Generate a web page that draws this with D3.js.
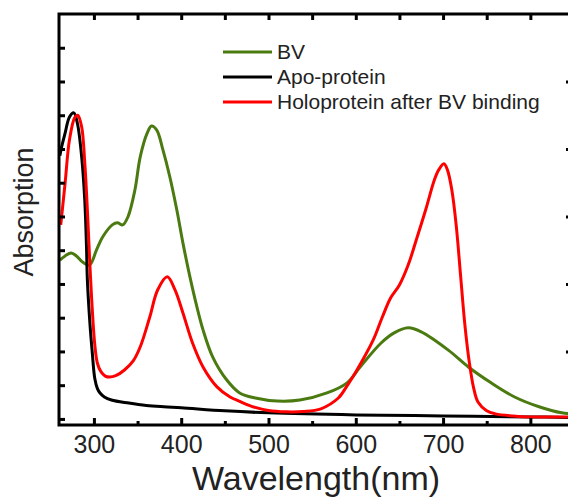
<!DOCTYPE html>
<html>
<head>
<meta charset="utf-8">
<script src="https://cdn.jsdelivr.net/npm/d3@7"></script>
<style>
  body { margin: 0; background: #fff; }
  text { font-family: "Liberation Sans", Arial, sans-serif; fill: #222; }
</style>
</head>
<body>
<div id="chart"></div>
<script>
//Width and height
var w = 568;
var h = 497;

var seriesNames = ["BV", "Apo-protein", "Holoprotein after BV binding"];
var seriesColors = ["#4a7a10", "#000000", "#ff0000"];

var xTickLabels = [300, 400, 500, 600, 700, 800];
var xMinorTicks = [350, 450, 550, 650, 750, 850];
var yTicks = [0, 0.1, 0.2, 0.3, 0.4, 0.5, 0.6, 0.7, 0.8, 0.9, 1.0, 1.1];
var yRightTicks = [0.2, 0.4, 0.6, 0.8, 1.0];

// BV (free biliverdin)
var bvNm  = [261, 267, 274, 280, 287, 295, 303, 310, 321, 327, 333, 339, 347, 353, 361, 366, 372, 379, 387, 395, 402, 410, 418, 425, 436, 452, 467, 485, 510, 536, 567, 590, 605, 629, 644, 660, 675, 706, 729, 755, 782, 810, 836, 850];
var bvAbs = [0.471, 0.483, 0.492, 0.483, 0.465, 0.456, 0.501, 0.539, 0.575, 0.581, 0.575, 0.599, 0.679, 0.776, 0.847, 0.868, 0.856, 0.798, 0.717, 0.619, 0.521, 0.421, 0.332, 0.264, 0.184, 0.116, 0.077, 0.062, 0.053, 0.056, 0.077, 0.107, 0.154, 0.225, 0.255, 0.270, 0.258, 0.204, 0.154, 0.107, 0.065, 0.036, 0.018, 0.015];

// Apo-protein
var apoNm  = [261, 263, 267, 272, 277, 281, 286, 289.5, 291.5, 292.5, 295.5, 298, 301, 304, 307, 312, 320, 340, 360, 380, 400, 450, 500, 600, 700, 800, 850];
var apoAbs = [0.780, 0.806, 0.847, 0.895, 0.907, 0.877, 0.776, 0.649, 0.510, 0.412, 0.280, 0.200, 0.120, 0.090, 0.077, 0.065, 0.056, 0.047, 0.040, 0.036, 0.033, 0.024, 0.018, 0.012, 0.009, 0.006, 0.004];

// Holoprotein after BV binding
var holoNm  = [262, 267, 272, 278, 281.5, 286, 289.5, 292.5, 295.5, 298, 301, 304, 308, 313, 318, 325, 335, 345, 353, 364, 373, 384, 393, 402, 413, 425, 441, 456, 467, 480, 500, 520, 540, 560, 580, 590, 600, 620, 630, 640, 650, 660, 670, 680, 690, 695, 701, 705, 710, 715, 720, 725, 730, 735, 740, 750, 760, 780, 800, 850];
var holoAbs = [0.575, 0.699, 0.827, 0.893, 0.900, 0.865, 0.760, 0.620, 0.450, 0.330, 0.220, 0.165, 0.140, 0.127, 0.124, 0.128, 0.145, 0.172, 0.213, 0.302, 0.382, 0.421, 0.382, 0.314, 0.225, 0.154, 0.095, 0.065, 0.052, 0.038, 0.025, 0.021, 0.022, 0.030, 0.062, 0.098, 0.139, 0.234, 0.299, 0.359, 0.397, 0.456, 0.536, 0.619, 0.708, 0.738, 0.756, 0.738, 0.679, 0.575, 0.427, 0.279, 0.169, 0.092, 0.050, 0.024, 0.015, 0.009, 0.006, 0.006];

var allNm = [bvNm, apoNm, holoNm];
var allAbs = [bvAbs, apoAbs, holoAbs];

//Create SVG element
var svg = d3.select("#chart")
  .append("svg")
  .attr("width", w)
  .attr("height", h);

// plot box (right edge falls just outside the window, as in the original)
var padL = 59, padR = 574, padT = 14, padB = 425;

var x = d3.scaleLinear().domain([260, 850]).range([padL, padR]);
var y = d3.scaleLinear().domain([-0.018, 1.2]).range([padB, padT]);

svg.append("clipPath").attr("id", "plotClip")
  .append("rect")
  .attr("x", padL).attr("y", padT)
  .attr("width", padR - padL).attr("height", padB - padT);

//draw the curves
var line = d3.line()
  .x(function(d) { return x(d[0]); })
  .y(function(d) { return y(d[1]); })
  .curve(d3.curveCatmullRom.alpha(0.5));

// BV first, then apo, then holo on top
[0, 1, 2].forEach(function(s) {
  var pts = allNm[s].map(function(nm, i) { return [nm, allAbs[s][i]]; });
  svg.append("path")
    .datum(pts)
    .attr("clip-path", "url(#plotClip)")
    .attr("fill", "none")
    .attr("stroke", seriesColors[s])
    .attr("stroke-width", 3)
    .attr("stroke-linejoin", "round")
    .attr("d", line);
});

//bottom axis with labels, ticks pointing inward
var bottomAxis = svg.append("g")
  .attr("transform", "translate(0," + padB + ")")
  .call(d3.axisBottom(x).tickValues(xTickLabels).tickSize(-7).tickSizeOuter(0).tickPadding(10));
bottomAxis.selectAll("text")
  .attr("font-size", "25px")
  .style("fill", "#222");

svg.append("g")
  .attr("transform", "translate(0," + padB + ")")
  .call(d3.axisBottom(x).tickValues(xMinorTicks).tickSize(-4).tickSizeOuter(0).tickFormat(""));

//top axis
svg.append("g")
  .attr("transform", "translate(0," + padT + ")")
  .call(d3.axisTop(x).tickValues(xTickLabels.concat(xMinorTicks)).tickSize(-6).tickSizeOuter(0).tickFormat(""));

//left axis
svg.append("g")
  .attr("transform", "translate(" + padL + ",0)")
  .call(d3.axisLeft(y).tickValues(yTicks).tickSize(-6).tickSizeOuter(0).tickFormat(""));

//right axis
svg.append("g")
  .attr("transform", "translate(" + padR + ",0)")
  .call(d3.axisRight(y).tickValues(yRightTicks).tickSize(-8).tickSizeOuter(0).tickFormat(""));

svg.selectAll(".domain").remove();
svg.selectAll(".tick line").attr("stroke", "#000").attr("stroke-width", 3);

//frame
svg.append("rect")
  .attr("x", padL).attr("y", padT)
  .attr("width", padR - padL).attr("height", padB - padT)
  .attr("fill", "none")
  .attr("stroke", "#000")
  .attr("stroke-width", 3);

//axis titles
svg.append("text")
  .text("Wavelength(nm)")
  .attr("x", 316)
  .attr("y", 490)
  .attr("text-anchor", "middle")
  .attr("font-size", "34px");

svg.append("text")
  .text("Absorption")
  .attr("transform", "translate(33,212) rotate(-90)")
  .attr("text-anchor", "middle")
  .attr("font-size", "27px");

//legend
var legend = svg.selectAll(".legend")
  .data(seriesNames)
  .enter()
  .append("g")
  .attr("transform", function(d, i) {
    return "translate(223," + (52 + i * 25) + ")";
  });

legend.append("line")
  .attr("x1", 0).attr("x2", 49)
  .attr("y1", 0).attr("y2", 0)
  .attr("stroke", function(d, i) { return seriesColors[i]; })
  .attr("stroke-width", 3);

legend.append("text")
  .text(function(d) { return d; })
  .attr("x", 54)
  .attr("y", 7)
  .attr("font-size", "21px");
</script>
</body>
</html>
